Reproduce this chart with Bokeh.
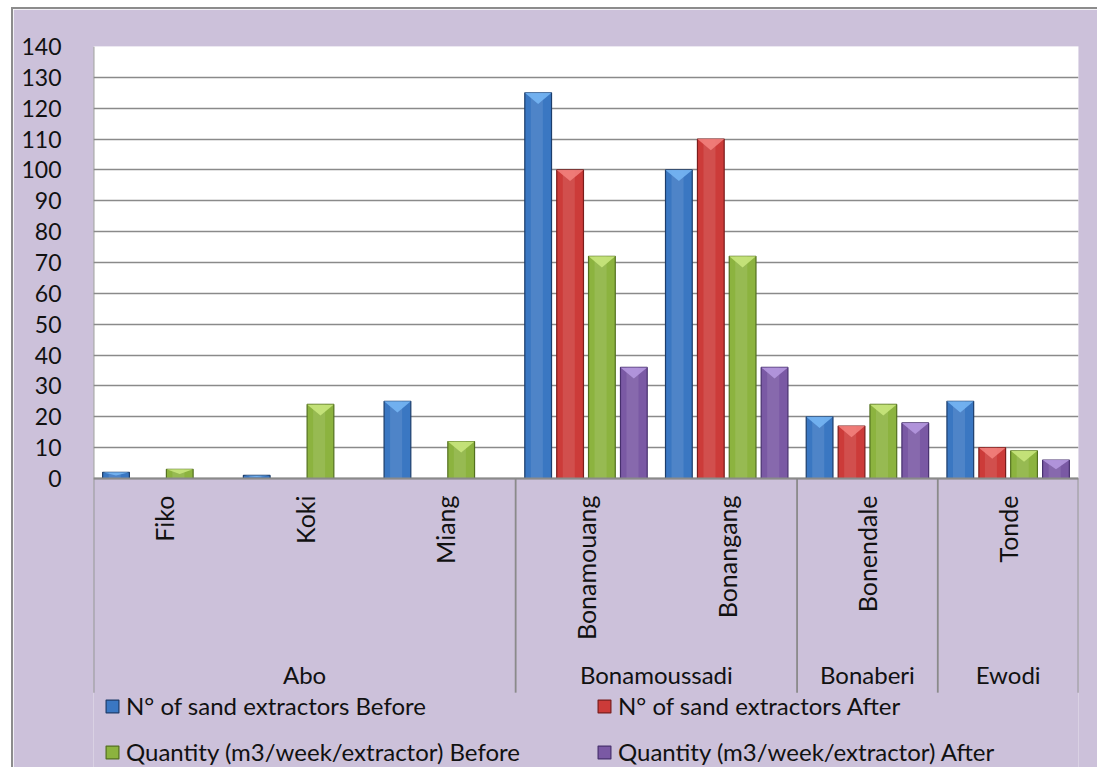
import numpy as np
from bokeh.plotting import figure
from bokeh.models import Range1d, FixedTicker, Legend, LegendItem, ColumnDataSource
from bokeh.core.properties import value
from bokeh.embed import file_html
from bokeh.resources import INLINE

# ---- data -------------------------------------------------------------
groups = ["Abo", "Abo", "Abo", "Bonamoussadi", "Bonamoussadi", "Bonaberi", "Ewodi"]
sites = ["Fiko", "Koki", "Miang", "Bonamouang", "Bonangang", "Bonendale", "Tonde"]
extractors_before = [2, 1, 25, 125, 100, 20, 25]
extractors_after = [0, 0, 0, 100, 110, 17, 10]
quantity_before = [3, 24, 12, 72, 72, 24, 9]
quantity_after = [0, 0, 0, 36, 36, 18, 6]
series_names = [
    "N° of sand extractors Before",
    "N° of sand extractors After",
    "Quantity (m3/week/extractor) Before",
    "Quantity (m3/week/extractor) After",
]
y_ticks = list(range(0, 150, 10))

# ---- style ------------------------------------------------------------
FONT = "Lato"
FS = "24px"
LAVENDER = "#ccc1da"
GRID = "#8a8a8a"
TEXT = "#111111"
# (body, edge, bevel highlight)
PALETTE = [
    ("#3a77c2", "#1c3d6b", "#76b5f3"),
    ("#cc3b39", "#7a1c1b", "#f27f7c"),
    ("#8cb33f", "#53701f", "#c8e67c"),
    ("#7a59a4", "#47306e", "#b598df"),
]
OFFSETS = [-0.34, -0.113, 0.113, 0.34]
BAR_W = 0.19

Y_TOP = 140
Y_BOTTOM = -94.3          # frame continues below zero to hold the category labels
SUB_LABEL_Y = -5.5
GROUP_LABEL_Y = -63.5
SEP_BOTTOM = -69.4

n = len(sites)
centers = np.arange(n) + 0.5
series = [extractors_before, extractors_after, quantity_before, quantity_after]

p = figure(
    width=1086, height=760,
    x_range=Range1d(0, n), y_range=Range1d(Y_BOTTOM, Y_TOP),
    output_backend="svg", toolbar_location=None,
    min_border_left=80, min_border_right=21, min_border_top=37, min_border_bottom=0,
    background_fill_color=LAVENDER, border_fill_color=LAVENDER,
    outline_line_color=None,
)
p.margin = (7, 0, 0, 11)
p.styles = {"border-left": "2px solid #8c8c8c", "border-top": "2px solid #8c8c8c"}

p.xaxis.visible = False
p.xgrid.visible = False
p.yaxis.ticker = FixedTicker(ticks=y_ticks)
p.ygrid.ticker = FixedTicker(ticks=y_ticks)
p.ygrid.grid_line_color = GRID
p.ygrid.grid_line_width = 1.6
p.yaxis.axis_line_color = None
p.yaxis.major_tick_line_color = None
p.yaxis.minor_tick_line_color = None
p.yaxis.major_label_standoff = 26
p.yaxis.major_label_text_font = FONT
p.yaxis.major_label_text_font_size = "23px"
p.yaxis.major_label_text_color = TEXT

# white plot area above zero, drawn beneath the grid lines
p.quad(left=0, right=n, bottom=0, top=Y_TOP + 5,
       fill_color="white", line_color=None, level="image")

# bars with bevelled tops
renderers = []
for vals, off, (body, edge, light) in zip(series, OFFSETS, PALETTE):
    vals = np.array(vals, dtype=float)
    xs = centers + off
    keep = vals > 0
    src = ColumnDataSource(dict(x=xs[keep], top=vals[keep]))
    r = p.vbar(x="x", top="top", bottom=0, width=BAR_W, source=src,
               fill_color=body, line_color=edge, line_width=1.2)
    renderers.append(r)
    # soft highlight down the middle of each bar
    p.vbar(x=xs[keep] - BAR_W * 0.05, top=vals[keep], bottom=0, width=BAR_W * 0.45,
           fill_color="white", fill_alpha=0.10, line_color=None)
    # bevel triangle at the top of each bar
    tri_h = np.minimum(3.6, vals[keep] * 0.5)
    tx = [[x - BAR_W / 2, x + BAR_W / 2, x] for x in xs[keep]]
    ty = [[v, v, v - h] for v, h in zip(vals[keep], tri_h)]
    p.patches(tx, ty, fill_color=light, fill_alpha=0.9, line_color=None)

# value-axis baseline
p.segment(x0=[0], y0=[0], x1=[n], y1=[0], line_color=GRID, line_width=1.8)

# group separators (outer edges included)
bounds = [0] + [i for i in range(1, n) if groups[i] != groups[i - 1]] + [n]
p.segment(x0=bounds, y0=[0] * len(bounds), x1=bounds, y1=[SEP_BOTTOM] * len(bounds),
          line_color=GRID, line_width=1.8)
p.segment(x0=[0], y0=[Y_TOP], x1=[0], y1=[0], line_color=GRID, line_width=1.8)

# site labels (rotated) and group labels
p.text(x=centers, y=[SUB_LABEL_Y] * n, text=sites, angle=np.pi / 2,
       text_align="right", text_baseline="middle",
       text_font=value(FONT), text_font_size="25px", text_color=TEXT)
group_names = []
group_mid = []
for a, b in zip(bounds[:-1], bounds[1:]):
    group_names.append(groups[a])
    group_mid.append((a + b) / 2)
p.text(x=group_mid, y=[GROUP_LABEL_Y] * len(group_mid), text=group_names,
       text_align="center", text_baseline="middle",
       text_font=value(FONT), text_font_size=FS, text_color=TEXT)

# legend: two columns, two rows
legend_pos = [(11, 49), (503, 49), (11, 3), (503, 3)]
for r, name, loc in zip(renderers, series_names, legend_pos):
    leg = Legend(items=[LegendItem(label=name, renderers=[r])], location=loc,
                 padding=0, margin=0, spacing=0, glyph_width=16, glyph_height=16,
                 label_standoff=6, background_fill_alpha=0, border_line_color=None,
                 label_text_font=FONT, label_text_font_size=FS, label_text_color=TEXT)
    p.add_layout(leg)

open("out.html", "w").write(file_html(p, INLINE))
